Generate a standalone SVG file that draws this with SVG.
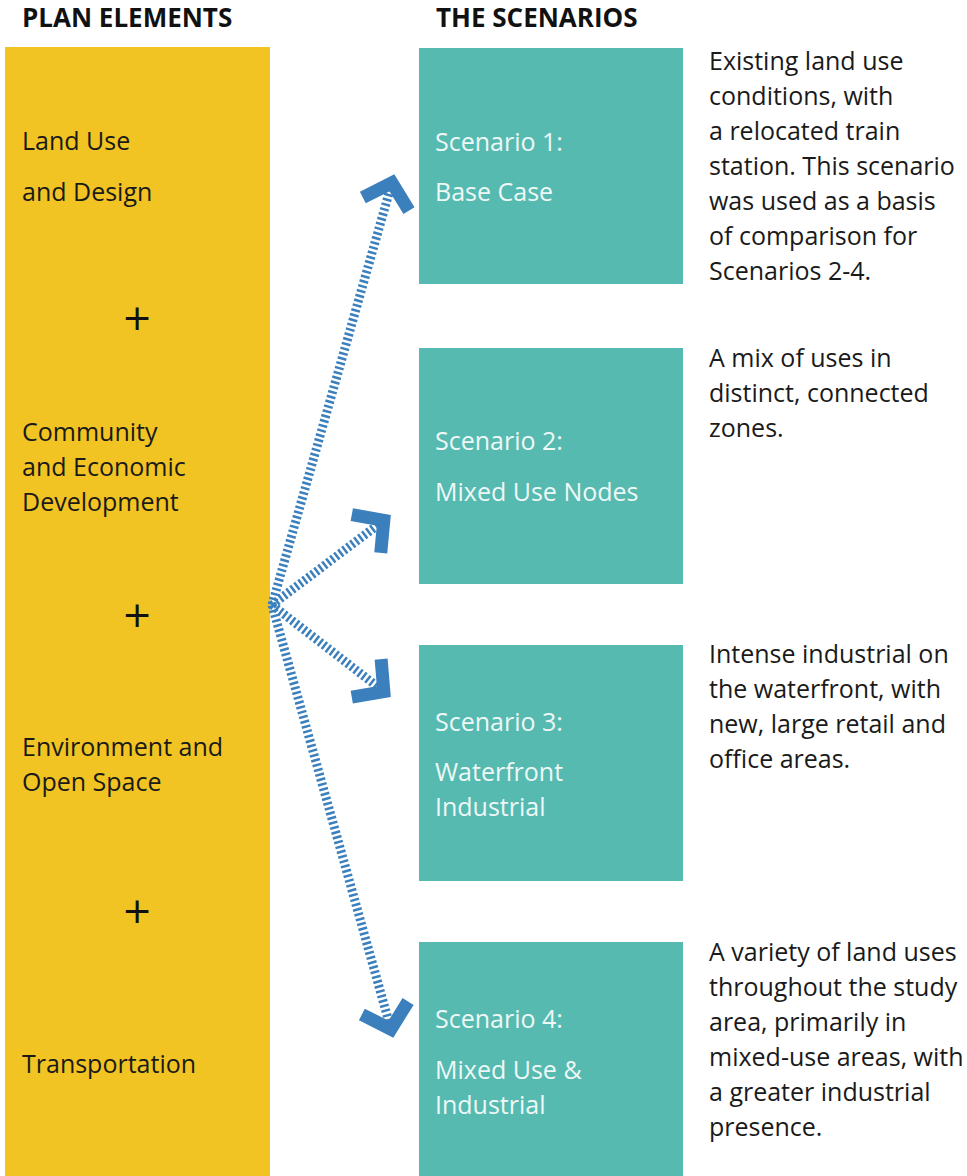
<svg xmlns="http://www.w3.org/2000/svg" width="967" height="1176" viewBox="0 0 967 1176">
<defs>
<style>
.hdr{font-family:"Open Sans","Liberation Sans",sans-serif;font-weight:bold;font-size:26px;fill:#111}
.lt{font-family:"Open Sans","Liberation Sans",sans-serif;font-size:25px;fill:#1a1a1a}
.st{font-family:"Open Sans","Liberation Sans",sans-serif;font-size:25px;fill:#eef8f6}
.rt{font-family:"Open Sans","Liberation Sans",sans-serif;font-size:25px;fill:#1a1a1a}
.plus{font-family:"DejaVu Sans",sans-serif;font-size:36px;fill:#111;text-anchor:middle}
.conn{fill:none;stroke:#3b80bd;stroke-width:9;stroke-dasharray:2.5 2.5}
</style>
<marker id="chev" markerUnits="userSpaceOnUse" viewBox="-45 -40 55 80" refX="0" refY="0" markerWidth="55" markerHeight="80" orient="auto">
<path d="M-26,-24 L-4,0 L-26,24" fill="none" stroke="#3b80bd" stroke-width="13" stroke-linejoin="miter"/>
</marker>
</defs>
<text class="hdr" x="22" y="27">PLAN ELEMENTS</text>
<text class="hdr" x="436" y="27">THE SCENARIOS</text>
<g id="plan-elements">
<rect x="5" y="47" width="265" height="1129" fill="#f1c423"/>
<text class="lt" x="22" y="150">Land Use</text>
<text class="lt" x="22" y="201">and Design</text>
<text class="plus" x="137" y="330">+</text>
<text class="lt" x="22" y="441">Community</text>
<text class="lt" x="22" y="476">and Economic</text>
<text class="lt" x="22" y="511">Development</text>
<text class="plus" x="137" y="627">+</text>
<text class="lt" x="22" y="756">Environment and</text>
<text class="lt" x="22" y="791">Open Space</text>
<text class="plus" x="137" y="923">+</text>
<text class="lt" x="22" y="1073">Transportation</text>
</g>
<g id="scenario-1">
<rect x="419" y="48" width="264" height="236" fill="#56bab0"/>
<text class="st" x="435" y="151">Scenario 1:</text>
<text class="st" x="435" y="201">Base Case</text>
<text class="rt" x="709" y="70">Existing land use</text>
<text class="rt" x="709" y="105">conditions, with</text>
<text class="rt" x="709" y="140">a relocated train</text>
<text class="rt" x="709" y="175">station. This scenario</text>
<text class="rt" x="709" y="210">was used as a basis</text>
<text class="rt" x="709" y="245">of comparison for</text>
<text class="rt" x="709" y="280">Scenarios 2-4.</text>
</g>
<g id="scenario-2">
<rect x="419" y="348" width="264" height="236" fill="#56bab0"/>
<text class="st" x="435" y="450">Scenario 2:</text>
<text class="st" x="435" y="501">Mixed Use Nodes</text>
<text class="rt" x="709" y="367">A mix of uses in</text>
<text class="rt" x="709" y="402">distinct, connected</text>
<text class="rt" x="709" y="437">zones.</text>
</g>
<g id="scenario-3">
<rect x="419" y="645" width="264" height="236" fill="#56bab0"/>
<text class="st" x="435" y="731">Scenario 3:</text>
<text class="st" x="435" y="781">Waterfront</text>
<text class="st" x="435" y="816">Industrial</text>
<text class="rt" x="709" y="663">Intense industrial on</text>
<text class="rt" x="709" y="698">the waterfront, with</text>
<text class="rt" x="709" y="733">new, large retail and</text>
<text class="rt" x="709" y="768">office areas.</text>
</g>
<g id="scenario-4">
<rect x="419" y="942" width="264" height="234" fill="#56bab0"/>
<text class="st" x="435" y="1028">Scenario 4:</text>
<text class="st" x="435" y="1079">Mixed Use &amp;</text>
<text class="st" x="435" y="1114">Industrial</text>
<text class="rt" x="709" y="961">A variety of land uses</text>
<text class="rt" x="709" y="996">throughout the study</text>
<text class="rt" x="709" y="1031">area, primarily in</text>
<text class="rt" x="709" y="1066">mixed-use areas, with</text>
<text class="rt" x="709" y="1101">a greater industrial</text>
<text class="rt" x="709" y="1136">presence.</text>
</g>
<g id="connectors">
<line class="conn" x1="272" y1="605" x2="393" y2="179" marker-end="url(#chev)"/>
<line class="conn" x1="272" y1="605" x2="387" y2="518" marker-end="url(#chev)"/>
<line class="conn" x1="272" y1="605" x2="387" y2="694" marker-end="url(#chev)"/>
<line class="conn" x1="272" y1="605" x2="392" y2="1033" marker-end="url(#chev)"/>
</g>
</svg>
